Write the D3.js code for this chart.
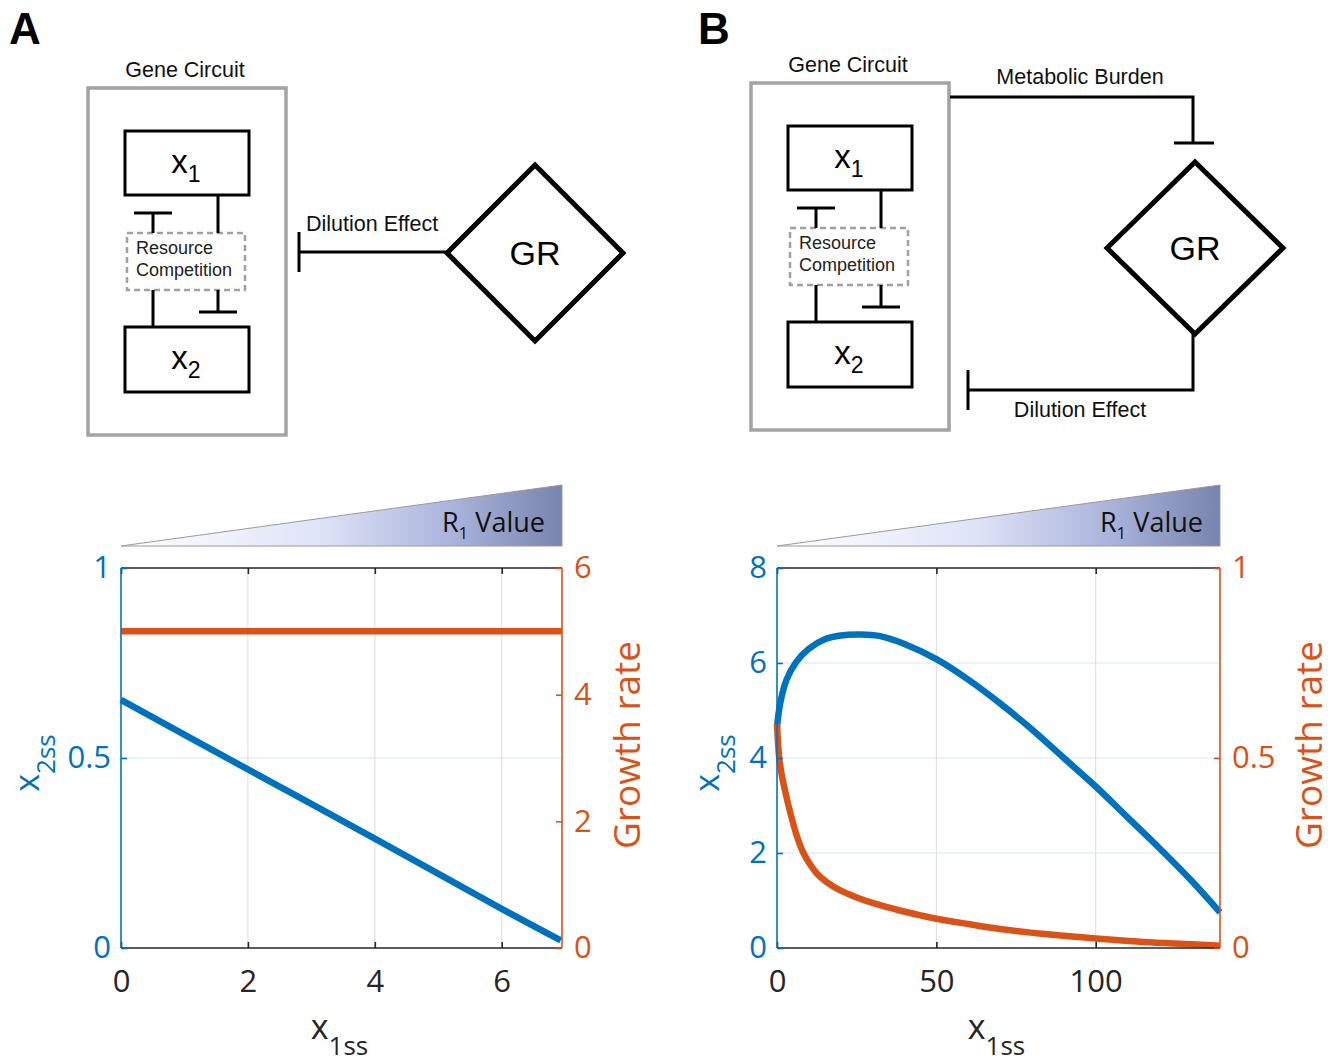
<!DOCTYPE html>
<html><head><meta charset="utf-8">
<script src="https://cdn.jsdelivr.net/npm/d3@7"></script>
<style>
body{margin:0;background:#fff}
.dg{font-family:"Liberation Sans",Arial,sans-serif}
.pl{font-family:"Open Sans",sans-serif}
</style>
</head><body>
<svg id="c" width="1336" height="1062"></svg>
<script>
// ---------- data ----------
const xTicksA = [0, 2, 4, 6];
const yLeftTicksA = [0, 0.5, 1];
const yRightTicksA = [0, 2, 4, 6];
const xDomainA = [0, 6.95];
const blueAX = [0, 2, 4, 6, 6.93];
const blueAY = [0.653, 0.47, 0.288, 0.103, 0.02];
const orangeAX = [0, 6.95];
const orangeAY = [5, 5];

const xTicksB = [0, 50, 100];
const yLeftTicksB = [0, 2, 4, 6, 8];
const yRightTicksB = [0, 0.5, 1];
const xDomainB = [0, 139];
const blueBX = [0, 1, 3, 6, 10, 15, 20, 26, 32, 40, 50, 60, 70, 80, 90, 100, 110, 120, 130, 139];
const blueBY = [4.65, 5.15, 5.65, 6.02, 6.3, 6.5, 6.58, 6.6, 6.57, 6.4, 6.08, 5.65, 5.15, 4.6, 4.0, 3.4, 2.75, 2.1, 1.42, 0.75];
const orangeBX = [0, 0.7, 1.5, 2.5, 3.6, 5, 6.5, 8.3, 10, 12.5, 15.5, 19.7, 25, 31, 38, 45, 50, 60, 70, 85, 100, 115, 130, 139];
const orangeBY = [0.59, 0.5, 0.455, 0.415, 0.375, 0.33, 0.288, 0.25, 0.225, 0.196, 0.174, 0.152, 0.133, 0.116, 0.1, 0.086, 0.077, 0.063, 0.05, 0.036, 0.025, 0.016, 0.01, 0.006];

const panelLabels = ["A", "B"];
const gradientLabel = "Value";

const BLUE = "#0072BD", ORANGE = "#D95319";
const svg = d3.select("#c");

// gradient
const defs = svg.append("defs");
const grad = defs.append("linearGradient").attr("id", "tri").attr("x1", "0").attr("x2", "1").attr("y1", "0").attr("y2", "0");
grad.append("stop").attr("offset", "0").attr("stop-color", "#ffffff");
grad.append("stop").attr("offset", "0.45").attr("stop-color", "#dfe3f7");
grad.append("stop").attr("offset", "0.75").attr("stop-color", "#aab4dc");
grad.append("stop").attr("offset", "1").attr("stop-color", "#7884ad");

// ---------- diagrams ----------
function tbar(g, x, yFrom, yTo, half) {
  g.append("line").attr("x1", x).attr("x2", x).attr("y1", yFrom).attr("y2", yTo);
  g.append("line").attr("x1", x - half).attr("x2", x + half).attr("y1", yTo).attr("y2", yTo);
}
function circuit(ox, oy) {
  const g = svg.append("g").attr("class", "dg");
  g.append("rect").attr("x", ox).attr("y", oy).attr("width", 198).attr("height", 347)
    .attr("fill", "none").attr("stroke", "#a3a3a3").attr("stroke-width", 3.5);
  g.append("text").attr("x", ox + 97).attr("y", oy - 11).attr("text-anchor", "middle")
    .attr("font-size", 21.5).attr("fill", "#111").text("Gene Circuit");
  const k = g.append("g").attr("stroke", "#000").attr("stroke-width", 3).attr("fill", "none");
  k.append("rect").attr("x", ox + 37).attr("y", oy + 43).attr("width", 124).attr("height", 64);
  k.append("rect").attr("x", ox + 37).attr("y", oy + 239).attr("width", 124).attr("height", 65);
  k.append("rect").attr("x", ox + 39).attr("y", oy + 145).attr("width", 118).attr("height", 57)
    .attr("stroke", "#a0a0a0").attr("stroke-width", 2.5).attr("stroke-dasharray", "6,4");
  k.append("line").attr("x1", ox + 130).attr("x2", ox + 130).attr("y1", oy + 107).attr("y2", oy + 145);
  tbar(k, ox + 65, oy + 145, oy + 125, 19);
  k.append("line").attr("x1", ox + 65).attr("x2", ox + 65).attr("y1", oy + 202).attr("y2", oy + 239);
  tbar(k, ox + 130, oy + 202, oy + 224, 19);
  const t1 = g.append("text").attr("x", ox + 98).attr("y", oy + 85).attr("text-anchor", "middle").attr("font-size", 33);
  t1.append("tspan").text("x");
  t1.append("tspan").attr("dy", 9).attr("font-size", 23).text("1");
  const t2 = g.append("text").attr("x", ox + 98).attr("y", oy + 281).attr("text-anchor", "middle").attr("font-size", 33);
  t2.append("tspan").text("x");
  t2.append("tspan").attr("dy", 9).attr("font-size", 23).text("2");
  g.append("text").attr("x", ox + 48).attr("y", oy + 166).attr("font-size", 18).attr("fill", "#222").text("Resource");
  g.append("text").attr("x", ox + 48).attr("y", oy + 188).attr("font-size", 18).attr("fill", "#222").text("Competition");
  return g;
}
function diamond(cx, cy, hw, hh) {
  const g = svg.append("g").attr("class", "dg");
  g.append("path").attr("d", `M${cx - hw},${cy}L${cx},${cy - hh}L${cx + hw},${cy}L${cx},${cy + hh}Z`)
    .attr("fill", "none").attr("stroke", "#000").attr("stroke-width", 5);
  g.append("text").attr("x", cx).attr("y", cy + 12).attr("text-anchor", "middle").attr("font-size", 34).text("GR");
}

// panel letters
svg.append("text").attr("class", "dg").attr("x", 9).attr("y", 44).attr("font-size", 44).attr("font-weight", "bold").text(panelLabels[0]);
svg.append("text").attr("class", "dg").attr("x", 698).attr("y", 44).attr("font-size", 44).attr("font-weight", "bold").text(panelLabels[1]);

// Panel A diagram
circuit(88, 88);
diamond(535, 253, 88, 88);
{
  const g = svg.append("g").attr("stroke", "#000").attr("stroke-width", 3);
  g.append("line").attr("x1", 299).attr("x2", 447).attr("y1", 252).attr("y2", 252);
  g.append("line").attr("x1", 299).attr("x2", 299).attr("y1", 232).attr("y2", 272);
  svg.append("text").attr("class", "dg").attr("x", 306).attr("y", 231).attr("font-size", 21.5).attr("fill", "#111").text("Dilution Effect");
}
// Panel B diagram
circuit(751, 83);
diamond(1195, 248, 88, 86);
{
  const g = svg.append("g").attr("stroke", "#000").attr("stroke-width", 3).attr("fill", "none");
  g.append("polyline").attr("points", "950,97 1193,97 1193,143");
  g.append("line").attr("x1", 1174).attr("x2", 1214).attr("y1", 143).attr("y2", 143);
  g.append("polyline").attr("points", "1193,334 1193,390 968,390");
  g.append("line").attr("x1", 968).attr("x2", 968).attr("y1", 370).attr("y2", 410);
  svg.append("text").attr("class", "dg").attr("x", 1080).attr("y", 84).attr("text-anchor", "middle").attr("font-size", 21.5).attr("fill", "#111").text("Metabolic Burden");
  svg.append("text").attr("class", "dg").attr("x", 1080).attr("y", 417).attr("text-anchor", "middle").attr("font-size", 21.5).attr("fill", "#111").text("Dilution Effect");
}

// ---------- plots ----------
function plot(cfg) {
  const {x0, x1, y0, y1} = cfg;
  const g = svg.append("g").attr("class", "pl");
  const x = d3.scaleLinear().domain(cfg.xDomain).range([x0, x1]);
  const yl = d3.scaleLinear().domain([cfg.yLTicks[0], cfg.yLTicks[cfg.yLTicks.length - 1]]).range([y1, y0]);
  const yr = d3.scaleLinear().domain([cfg.yRTicks[0], cfg.yRTicks[cfg.yRTicks.length - 1]]).range([y1, y0]);

  // R1 triangle
  g.append("path").attr("d", `M${x0},${y1 - 402}L${x1},${y1 - 463}L${x1},${y1 - 402}Z`)
    .attr("fill", "url(#tri)").attr("stroke", "#9a9a9a").attr("stroke-width", 1);
  const rt = g.append("text").attr("x", x1 - 17).attr("y", y1 - 416).attr("text-anchor", "end")
    .attr("font-size", 27).attr("fill", "#111");
  rt.append("tspan").text("R");
  rt.append("tspan").attr("dy", 7).attr("font-size", 17).text("1");
  rt.append("tspan").attr("dy", -7).text(" " + gradientLabel);

  // grid
  g.append("g").selectAll("line").data(cfg.xTicks.filter(d => d > cfg.xDomain[0] && d < cfg.xDomain[1]))
    .join("line").attr("x1", d => x(d)).attr("x2", d => x(d)).attr("y1", y0).attr("y2", y1)
    .attr("stroke", "#dcdcdc").attr("stroke-width", 1);
  g.append("g").selectAll("line").data(cfg.yLTicks.slice(1, -1))
    .join("line").attr("x1", x0).attr("x2", x1).attr("y1", d => yl(d)).attr("y2", d => yl(d))
    .attr("stroke", "#d6e7f5").attr("stroke-width", 1.2);

  // lines
  const line = (sy) => d3.line().x((d) => x(d[0])).y((d) => sy(d[1])).curve(d3.curveCatmullRom.alpha(0.5));
  g.append("path").datum(d3.zip(cfg.blueX, cfg.blueY)).attr("d", line(yl))
    .attr("fill", "none").attr("stroke", BLUE).attr("stroke-width", 6.5).attr("stroke-linecap", "butt");
  g.append("path").datum(d3.zip(cfg.orangeX, cfg.orangeY)).attr("d", line(yr))
    .attr("fill", "none").attr("stroke", ORANGE).attr("stroke-width", 6.5).attr("stroke-linecap", "butt");

  // axes
  const tl = 6, fs = 31;
  const axB = g.append("g").attr("transform", `translate(0,${y1})`).call(
    d3.axisBottom(x).tickValues(cfg.xTicks).tickSize(-tl).tickPadding(21).tickFormat(d3.format("d")));
  axB.select(".domain").attr("stroke", "#262626").attr("stroke-width", 1.6).attr("d", `M${x0},0H${x1}`);
  axB.selectAll(".tick line").attr("stroke", "#262626").attr("stroke-width", 1.6);
  axB.selectAll(".tick text").attr("fill", "#262626").attr("font-size", fs).attr("font-family", "Open Sans").attr("dy", "0.75em");
  const axT = g.append("g").attr("transform", `translate(0,${y0})`).call(
    d3.axisTop(x).tickValues(cfg.xTicks).tickSize(-tl).tickFormat(""));
  axT.select(".domain").attr("stroke", "#262626").attr("stroke-width", 1.6).attr("d", `M${x0},0H${x1}`);
  axT.selectAll(".tick line").attr("stroke", "#262626").attr("stroke-width", 1.6);

  const axL = g.append("g").attr("transform", `translate(${x0},0)`).call(
    d3.axisLeft(yl).tickValues(cfg.yLTicks).tickSize(-tl).tickPadding(10).tickFormat(d => String(d)));
  axL.select(".domain").attr("stroke", BLUE).attr("stroke-width", 1.6).attr("d", `M0,${y0}V${y1}`);
  axL.selectAll(".tick line").attr("stroke", BLUE).attr("stroke-width", 1.6);
  axL.selectAll(".tick text").attr("fill", BLUE).attr("font-size", fs).attr("font-family", "Open Sans");
  const axR = g.append("g").attr("transform", `translate(${x1},0)`).call(
    d3.axisRight(yr).tickValues(cfg.yRTicks).tickSize(-tl).tickPadding(12).tickFormat(d => String(d)));
  axR.select(".domain").attr("stroke", ORANGE).attr("stroke-width", 1.6).attr("d", `M0,${y0}V${y1}`);
  axR.selectAll(".tick line").attr("stroke", ORANGE).attr("stroke-width", 1.6);
  axR.selectAll(".tick text").attr("fill", ORANGE).attr("font-size", fs).attr("font-family", "Open Sans");

  // axis labels
  const xl = g.append("text").attr("x", (x0 + x1) / 2 - 2).attr("y", y1 + 91).attr("text-anchor", "middle")
    .attr("font-size", 34).attr("fill", "#262626");
  xl.append("tspan").text("x");
  xl.append("tspan").attr("dy", 16).attr("font-size", 26).text("1ss");
  const ylab = g.append("text").attr("transform", `translate(${x0 - cfg.leftOff},${(y0 + y1) / 2 + 5}) rotate(-90)`)
    .attr("text-anchor", "middle").attr("font-size", 34).attr("fill", BLUE);
  ylab.append("tspan").text("x");
  ylab.append("tspan").attr("dy", 16).attr("font-size", 26).text("2ss");
  g.append("text").attr("transform", `translate(${x1 + cfg.rightOff},${(y0 + y1) / 2 - 13}) rotate(-90)`)
    .attr("text-anchor", "middle").attr("font-size", 37).attr("fill", ORANGE).text("Growth rate");
}

plot({x0: 121, x1: 562, y0: 568, y1: 948, xDomain: xDomainA, xTicks: xTicksA,
  yLTicks: yLeftTicksA, yRTicks: yRightTicksA, leftOff: 82, rightOff: 78,
  blueX: blueAX, blueY: blueAY, orangeX: orangeAX, orangeY: orangeAY});
plot({x0: 777, x1: 1220, y0: 568, y1: 948, xDomain: xDomainB, xTicks: xTicksB,
  yLTicks: yLeftTicksB, yRTicks: yRightTicksB, leftOff: 58, rightOff: 102,
  blueX: blueBX, blueY: blueBY, orangeX: orangeBX, orangeY: orangeBY});
</script>
</body></html>
